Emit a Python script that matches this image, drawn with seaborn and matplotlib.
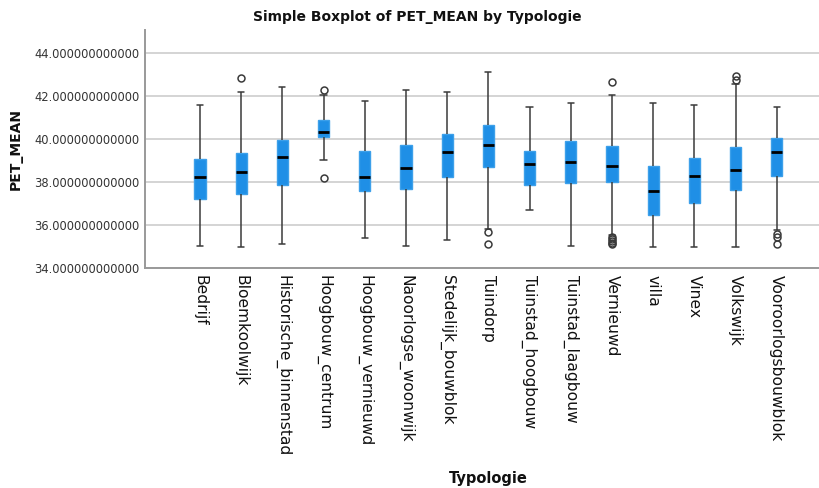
import numpy as np
import pandas as pd
import matplotlib
matplotlib.use("Agg")
import matplotlib.pyplot as plt
import seaborn as sns
from matplotlib.ticker import StrMethodFormatter

categories = ["Bedrijf", "Bloemkoolwijk", "Historische_binnenstad", "Hoogbouw_centrum",
              "Hoogbouw_vernieuwd", "Naoorlogse_woonwijk", "Stedelijk_bouwblok", "Tuindorp",
              "Tuinstad_hoogbouw", "Tuinstad_laagbouw", "Vernieuwd", "villa", "Vinex",
              "Volkswijk", "Vooroorlogsbouwblok"]

whisker_low = [35.04, 34.99, 35.10, 39.01, 35.40, 35.04, 35.30, 35.81, 36.70, 35.04,
               35.55, 34.99, 34.99, 34.99, 35.75]
q1 = [37.22, 37.43, 37.85, 40.08, 37.60, 37.67, 38.22, 38.68, 37.85, 37.94,
      38.01, 36.48, 37.01, 37.61, 38.28]
median = [38.25, 38.45, 39.16, 40.34, 38.23, 38.64, 39.41, 39.72, 38.84, 38.92,
          38.74, 37.60, 38.28, 38.56, 39.40]
q3 = [39.07, 39.35, 39.95, 40.88, 39.44, 39.72, 40.22, 40.64, 39.46, 39.92,
      39.67, 38.73, 39.10, 39.62, 40.05]
whisker_high = [41.57, 42.19, 42.43, 42.06, 41.77, 42.28, 42.19, 43.12, 41.49, 41.66,
                42.05, 41.67, 41.57, 42.55, 41.49]
outliers = [[], [42.84], [], [38.20, 42.28], [], [], [], [35.66, 35.13], [], [],
            [35.45, 35.35, 35.25, 35.17, 35.10, 42.64], [], [], [42.93, 42.75],
            [35.58, 35.45, 35.10]]

# Rebuild a sample per category whose quartiles/whiskers match the read summary
K = 20
rows = []
for i, cat in enumerate(categories):
    vals = list(outliers[i]) + [whisker_low[i], whisker_high[i]] \
        + [q1[i]] * K + [median[i]] * K + [q3[i]] * K
    for v in vals:
        rows.append((cat, v))
df = pd.DataFrame(rows, columns=["Typologie", "PET_MEAN"])

sns.set_style("white")
plt.rcParams['font.family'] = ['DejaVu Sans']

W, H = 820, 488
fig = plt.figure(figsize=(W / 100, H / 100), dpi=100)
ax = fig.add_axes([145 / W, (H - 268) / H, (W - 145) / W, (268 - 30) / H])

box_color = "#1f8fe6"
line_color = "#3a3a3a"
sns.boxplot(data=df, x="Typologie", y="PET_MEAN", order=categories, ax=ax,
            color=box_color, saturation=1, width=0.27, whis=1.5,
            boxprops=dict(facecolor=box_color, edgecolor="#3da0ea", linewidth=1),
            medianprops=dict(color="black", linewidth=2),
            whiskerprops=dict(color=line_color, linewidth=1.1),
            capprops=dict(color=line_color, linewidth=1.1),
            capwidths=0.15,
            flierprops=dict(marker="o", markerfacecolor="none",
                            markeredgecolor=line_color, markersize=5.0,
                            markeredgewidth=1.1))

ax.set_xlim(-1.335, 15.05)
ax.set_ylim(34, 45.07)
ax.set_yticks([34, 36, 38, 40, 42, 44])
ax.yaxis.set_major_formatter(StrMethodFormatter("{x:.12f}"))
ax.grid(axis="y", color="#d4d4d4", linewidth=1.4)
ax.grid(axis="x", visible=False)
ax.set_axisbelow(True)
for s in ["top", "right"]:
    ax.spines[s].set_visible(False)
for s in ["left", "bottom"]:
    ax.spines[s].set_color("#999999")
    ax.spines[s].set_linewidth(1.4)

ax.tick_params(axis="y", length=0, pad=4, labelsize=8.3, labelcolor="#333333")
ax.tick_params(axis="x", length=0, pad=5, labelsize=11.2, labelcolor="#111111")
plt.setp(ax.get_xticklabels(), rotation=270, ha="center", va="top")

ax.set_xlabel("")
ax.set_ylabel("PET_MEAN", fontsize=10, fontweight="bold", color="#111111", labelpad=8)
fig.text(417 / W, 1 - 17 / H, "Simple Boxplot of PET_MEAN by Typologie",
         ha="center", va="center", fontsize=10, fontweight="bold", color="#111111")
fig.text(488 / W, 1 - 479 / H, "Typologie", ha="center", va="center",
         fontsize=10.5, fontweight="bold", color="#111111")

fig.savefig("out.png", dpi=100)
